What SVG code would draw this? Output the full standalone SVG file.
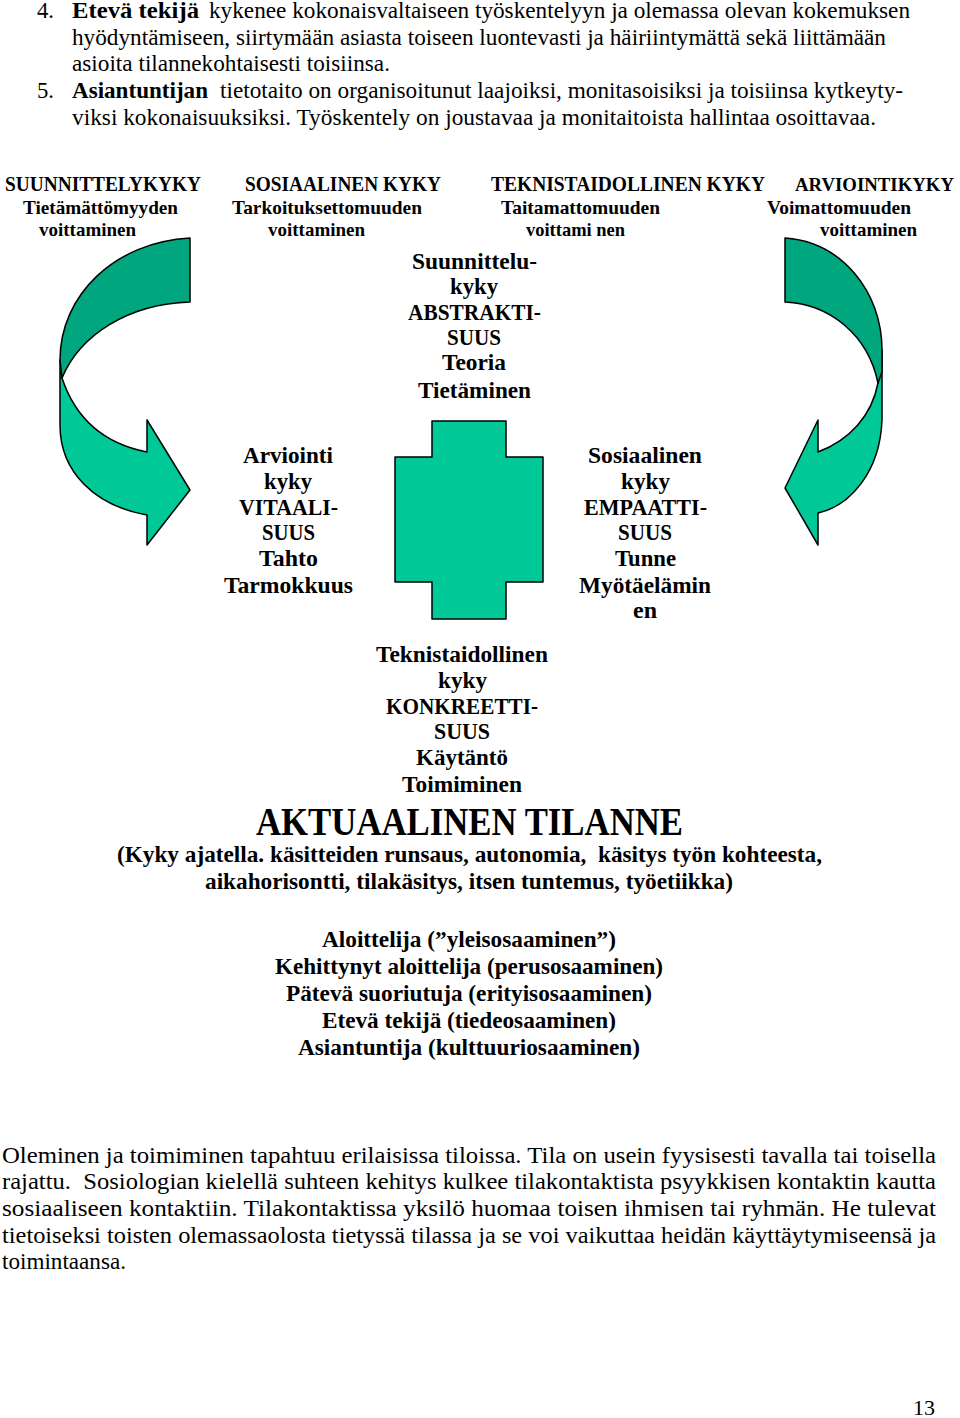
<svg xmlns="http://www.w3.org/2000/svg" width="960" height="1418" viewBox="0 0 960 1418">
<style>
text{font-family:"Liberation Serif","Times New Roman",serif;fill:#000}
.r{font-weight:normal}
.b{font-weight:bold}
.p{font-size:23px}
.h1{font-size:20px;font-weight:bold}
.h2{font-size:19.5px;font-weight:bold}
.c{font-size:23px}
.n{font-size:24px}
.big{font-size:41px}
.pre{white-space:pre}
.dark{fill:#00a67e;stroke:#000;stroke-width:1.5;stroke-linejoin:round}
.light{fill:#00c896;stroke:#000;stroke-width:1.5;stroke-linejoin:round}
</style>
<rect width="960" height="1418" fill="#fff"/>

<g id="intro-text" class="p">
<text class="r" x="37" y="18" textLength="17" lengthAdjust="spacingAndGlyphs">4.</text>
<text class="b" x="72" y="18" textLength="127" lengthAdjust="spacingAndGlyphs">Etevä tekijä</text>
<text class="r" x="209" y="18" textLength="701" lengthAdjust="spacingAndGlyphs">kykenee kokonaisvaltaiseen työskentelyyn ja olemassa olevan kokemuksen</text>
<text class="r" x="72" y="45" textLength="814" lengthAdjust="spacingAndGlyphs">hyödyntämiseen, siirtymään asiasta toiseen luontevasti ja häiriintymättä sekä liittämään</text>
<text class="r" x="72" y="71" textLength="318" lengthAdjust="spacingAndGlyphs">asioita tilannekohtaisesti toisiinsa.</text>
<text class="r" x="37" y="98" textLength="17" lengthAdjust="spacingAndGlyphs">5.</text>
<text class="b" x="72" y="98" textLength="136" lengthAdjust="spacingAndGlyphs">Asiantuntijan</text>
<text class="r" x="220" y="98" textLength="683" lengthAdjust="spacingAndGlyphs">tietotaito on organisoitunut laajoiksi, monitasoisiksi ja toisiinsa kytkeyty-</text>
<text class="r" x="72" y="125" textLength="804" lengthAdjust="spacingAndGlyphs">viksi kokonaisuuksiksi. Työskentely on joustavaa ja monitaitoista hallintaa osoittavaa.</text>
</g>

<g id="header-suunnittelukyky">
<text class="h1" x="5" y="191" textLength="196" lengthAdjust="spacingAndGlyphs">SUUNNITTELYKYKY</text>
<text class="h2" x="23" y="214" textLength="155" lengthAdjust="spacingAndGlyphs">Tietämättömyyden</text>
<text class="h2" x="39" y="236" textLength="97" lengthAdjust="spacingAndGlyphs">voittaminen</text>
</g>
<g id="header-sosiaalinen">
<text class="h1" x="245" y="191" textLength="196" lengthAdjust="spacingAndGlyphs">SOSIAALINEN KYKY</text>
<text class="h2" x="232" y="214" textLength="190" lengthAdjust="spacingAndGlyphs">Tarkoituksettomuuden</text>
<text class="h2" x="268" y="236" textLength="97" lengthAdjust="spacingAndGlyphs">voittaminen</text>
</g>
<g id="header-teknistaidollinen">
<text class="h1" x="491" y="191" textLength="274" lengthAdjust="spacingAndGlyphs">TEKNISTAIDOLLINEN KYKY</text>
<text class="h2" x="501" y="214" textLength="159" lengthAdjust="spacingAndGlyphs">Taitamattomuuden</text>
<text class="h2" x="526" y="236" textLength="99" lengthAdjust="spacingAndGlyphs">voittami nen</text>
</g>
<g id="header-arviointikyky">
<text class="h1" x="795" y="191" font-size="18" style="font-size:18px" textLength="159" lengthAdjust="spacingAndGlyphs">ARVIOINTIKYKY</text>
<text class="h2" x="767" y="214" textLength="144" lengthAdjust="spacingAndGlyphs">Voimattomuuden</text>
<text class="h2" x="820" y="236" textLength="97" lengthAdjust="spacingAndGlyphs">voittaminen</text>
</g>

<g id="connectors">
<g id="arrow-left">
<path class="light" d="M60,360 L60,425 C60,472 95,506 147,515 L147,545 L190,490 L147,420 L147,452 C106,444 76,420 62,378 Z"/>
<path class="dark" d="M190,238 C115,242 60,295 60,360 L62,378 C80,335 128,304 190,302 Z"/>
</g>
<g id="arrow-right">
<path class="light" d="M882,350 L882,420 C880,472 850,506 818,513 L818,545 L785,488 L818,420 L818,452 C850,440 872,415 878,383 Z"/>
<path class="dark" d="M785,238 C842,242 882,292 882,350 L882,372 L878,383 C868,335 830,304 785,302 Z"/>
</g>
</g>

<g id="cross">
<path class="light" d="M432,421 L506,421 L506,457 L543,457 L543,582 L506,582 L506,619 L432,619 L432,582 L395,582 L395,457 L432,457 Z"/>
</g>

<g id="node-suunnittelukyky" class="b c">
<text x="412" y="269" textLength="125" lengthAdjust="spacingAndGlyphs">Suunnittelu-</text>
<text x="450" y="294" textLength="48" lengthAdjust="spacingAndGlyphs">kyky</text>
<text x="408" y="320" textLength="133" lengthAdjust="spacingAndGlyphs">ABSTRAKTI-</text>
<text x="447" y="345" textLength="54" lengthAdjust="spacingAndGlyphs">SUUS</text>
<text x="442" y="370" textLength="64" lengthAdjust="spacingAndGlyphs">Teoria</text>
<text x="418" y="398" textLength="113" lengthAdjust="spacingAndGlyphs">Tietäminen</text>
</g>

<g id="node-arviointikyky" class="b c">
<text x="243" y="463" textLength="90" lengthAdjust="spacingAndGlyphs">Arviointi</text>
<text x="264" y="489" textLength="48" lengthAdjust="spacingAndGlyphs">kyky</text>
<text x="239" y="515" textLength="99" lengthAdjust="spacingAndGlyphs">VITAALI-</text>
<text x="262" y="540" textLength="53" lengthAdjust="spacingAndGlyphs">SUUS</text>
<text x="259" y="566" textLength="59" lengthAdjust="spacingAndGlyphs">Tahto</text>
<text x="224" y="593" textLength="129" lengthAdjust="spacingAndGlyphs">Tarmokkuus</text>
</g>

<g id="node-sosiaalinen" class="b c">
<text x="588" y="463" textLength="114" lengthAdjust="spacingAndGlyphs">Sosiaalinen</text>
<text x="621" y="489" textLength="49" lengthAdjust="spacingAndGlyphs">kyky</text>
<text x="584" y="515" textLength="123" lengthAdjust="spacingAndGlyphs">EMPAATTI-</text>
<text x="618" y="540" textLength="54" lengthAdjust="spacingAndGlyphs">SUUS</text>
<text x="615" y="566" textLength="61" lengthAdjust="spacingAndGlyphs">Tunne</text>
<text x="579" y="593" textLength="132" lengthAdjust="spacingAndGlyphs">Myötäelämin</text>
<text x="633" y="618" textLength="24" lengthAdjust="spacingAndGlyphs">en</text>
</g>

<g id="node-teknistaidollinen" class="b n">
<text x="376" y="662" textLength="172" lengthAdjust="spacingAndGlyphs">Teknistaidollinen</text>
<text x="438" y="688" textLength="49" lengthAdjust="spacingAndGlyphs">kyky</text>
<text x="386" y="714" textLength="152" lengthAdjust="spacingAndGlyphs">KONKREETTI-</text>
<text x="434" y="739" textLength="56" lengthAdjust="spacingAndGlyphs">SUUS</text>
<text x="416" y="765" textLength="92" lengthAdjust="spacingAndGlyphs">Käytäntö</text>
<text x="402" y="792" textLength="120" lengthAdjust="spacingAndGlyphs">Toimiminen</text>
</g>

<g id="node-aktuaalinen">
<text class="b big" x="256" y="835" textLength="427" lengthAdjust="spacingAndGlyphs">AKTUAALINEN TILANNE</text>
<text class="b c pre" x="117" y="862" textLength="705" lengthAdjust="spacingAndGlyphs">(Kyky ajatella. käsitteiden runsaus, autonomia,  käsitys työn kohteesta,</text>
<text class="b c" x="205" y="889" textLength="528" lengthAdjust="spacingAndGlyphs">aikahorisontti, tilakäsitys, itsen tuntemus, työetiikka)</text>
</g>

<g id="node-levels" class="b c">
<text x="322" y="947" textLength="294" lengthAdjust="spacingAndGlyphs">Aloittelija (”yleisosaaminen”)</text>
<text x="275" y="974" textLength="388" lengthAdjust="spacingAndGlyphs">Kehittynyt aloittelija (perusosaaminen)</text>
<text x="286" y="1001" textLength="366" lengthAdjust="spacingAndGlyphs">Pätevä suoriutuja (erityisosaaminen)</text>
<text x="322" y="1028" textLength="294" lengthAdjust="spacingAndGlyphs">Etevä tekijä (tiedeosaaminen)</text>
<text x="298" y="1055" textLength="342" lengthAdjust="spacingAndGlyphs">Asiantuntija (kulttuuriosaaminen)</text>
</g>

<g id="closing-text" class="r p">
<text x="2" y="1163" textLength="934" lengthAdjust="spacingAndGlyphs">Oleminen ja toimiminen tapahtuu erilaisissa tiloissa. Tila on usein fyysisesti tavalla tai toisella</text>
<text class="pre" x="2" y="1189" textLength="934" lengthAdjust="spacingAndGlyphs">rajattu.  Sosiologian kielellä suhteen kehitys kulkee tilakontaktista psyykkisen kontaktin kautta</text>
<text x="2" y="1216" textLength="934" lengthAdjust="spacingAndGlyphs">sosiaaliseen kontaktiin. Tilakontaktissa yksilö huomaa toisen ihmisen tai ryhmän. He tulevat</text>
<text x="2" y="1243" textLength="934" lengthAdjust="spacingAndGlyphs">tietoiseksi toisten olemassaolosta tietyssä tilassa ja se voi vaikuttaa heidän käyttäytymiseensä ja</text>
<text x="2" y="1269" textLength="124" lengthAdjust="spacingAndGlyphs">toimintaansa.</text>
</g>

<g id="page-number">
<text class="r" x="913" y="1415" font-size="21" textLength="22" lengthAdjust="spacingAndGlyphs">13</text>
</g>
</svg>
